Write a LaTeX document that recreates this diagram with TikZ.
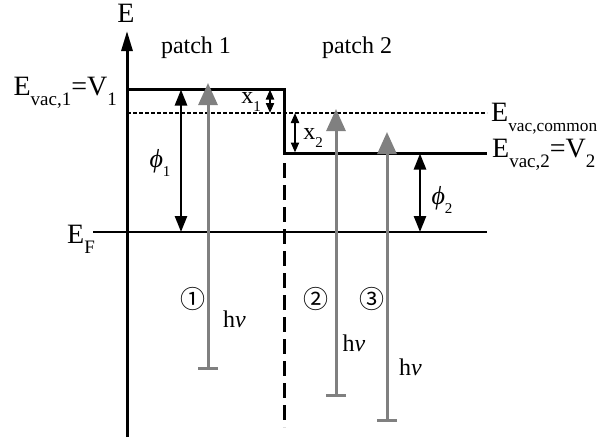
\documentclass[tikz,border=0pt]{standalone}
\usepackage{fontspec}
\setmainfont{Liberation Serif}
\newfontfamily\circfont{Noto Sans CJK JP}
\usetikzlibrary{arrows.meta}
\newcommand\lowsub[2][19]{\raisebox{-0.37em}{\fontsize{#1}{#1}\selectfont#2}}
\tikzset{
  level/.style={line width=3pt},
  axis/.style={line width=3pt, -{Triangle[width=11pt,length=20pt]}},
  gap/.style={line width=2.5pt, {Triangle[width=12pt,length=16pt]}-{Triangle[width=12pt,length=16pt]}},
  smallgap/.style={line width=2pt, {Triangle[width=8pt,length=10pt]}-{Triangle[width=8pt,length=10pt]}},
  photon/.style={draw=gray, line width=3pt, {Bar[width=20pt,line width=3pt]}-{Triangle[width=19pt,length=22pt]}},
  biglbl/.style={font=\fontsize{28}{30}\selectfont, inner sep=0pt},
  lbl/.style={font=\fontsize{24}{28}\selectfont, inner sep=0pt},
  circ/.style={font=\circfont\fontsize{25}{28}\selectfont, inner sep=0pt}
}
\begin{document}
\begin{tikzpicture}[x=1pt, y=-1pt]
  \useasboundingbox (0,0) rectangle (602,437);
  % energy axis
  \coordinate (ax0) at (127,437);
  \coordinate (ax1) at (127,31);
  \draw[axis] (ax0) -- (ax1);
  \node[biglbl] (Eaxis) at (126,13) {E};
  \node[lbl, anchor=base] (patchA) at (196,53) {patch 1};
  \node[lbl, anchor=base] (patchB) at (357,53) {patch 2};

  % vacuum levels
  \coordinate (v1l) at (127,89);  \coordinate (v1r) at (284,89);
  \coordinate (v2l) at (284,153); \coordinate (v2r) at (487,153);
  \draw[level] (v1l) -- (v1r) -- (v2l) -- (v2r);
  \coordinate (cl) at (127,113);  \coordinate (cr) at (487,113);
  \draw[line width=2pt, dash pattern=on 4pt off 2pt] (cl) -- (cr);
  \coordinate (efl) at (93,232);  \coordinate (efr) at (487,232);
  \draw[line width=2pt] (efl) -- (efr);
  \coordinate (bdt) at (284,163); \coordinate (bdb) at (284,427);
  \draw[line width=3pt, dash pattern=on 15pt off 7pt] (bdt) -- (bdb);

  \node[biglbl, anchor=base east] (Evac1) at (117,95) {E\lowsub{vac,1}=V\lowsub{1}};
  \node[biglbl, anchor=base west] (Ecom) at (491,121) {E\lowsub[17.3]{vac,common}};
  \node[biglbl, anchor=base west] (Evac2) at (492,157) {E\lowsub{vac,2}=V\lowsub{2}};
  \node[biglbl, anchor=base west] (EF) at (67,243) {E\lowsub{F}};

  % work functions and offsets
  \coordinate (p1t) at (181,89.5);  \coordinate (p1b) at (181,232);
  \draw[gap] (p1t) -- (p1b);
  \node[lbl] (phiA) at (160,163) {{\fontsize{26}{28}\selectfont\itshape ϕ}\lowsub[15]{1}};
  \coordinate (p2t) at (420,153.5); \coordinate (p2b) at (420,232);
  \draw[gap] (p2t) -- (p2b);
  \node[lbl] (phiB) at (442,200) {{\fontsize{26}{28}\selectfont\itshape ϕ}\lowsub[15]{2}};
  \coordinate (x1t) at (270,89.5);  \coordinate (x1b) at (270,113);
  \draw[smallgap] (x1t) -- (x1b);
  \node[lbl] (xA) at (251,102) {x\lowsub[15]{1}};
  \coordinate (x2t) at (295,113);   \coordinate (x2b) at (295,152.5);
  \draw[smallgap] (x2t) -- (x2b);
  \node[lbl] (xB) at (313,138) {x\lowsub[15]{2}};

  % photons
  \foreach \x/\yb/\yt/\n in {208/370/83/1, 336/397/109/2, 387/422/132/3}{
    \coordinate (hv\n b) at (\x,\yb);
    \coordinate (hv\n t) at (\x,\yt);
    \draw[photon] (hv\n b) -- (hv\n t);
  }
  \node[circ] (cA) at (192.5,299) {①};
  \node[circ] (cB) at (315.5,299) {②};
  \node[circ] (cC) at (371.5,299) {③};
  \node[lbl] (hvA) at (234.5,319) {h\textit{ν}};
  \node[lbl] (hvB) at (354,343.5) {h\textit{ν}};
  \node[lbl] (hvC) at (410.5,367) {h\textit{ν}};
\end{tikzpicture}
\end{document}
